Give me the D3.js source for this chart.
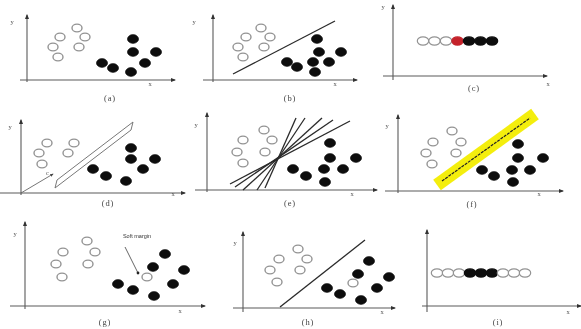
<!DOCTYPE html>
<html><head><meta charset="utf-8">
<script src="https://cdn.jsdelivr.net/npm/d3@7"></script>
<style>html,body{margin:0;padding:0;background:#fff;}svg{display:block;}</style>
</head><body>
<script>
// ---------- DATA (panel-local units, origin = axis crossing) ----------
const captions = ["(a)","(b)","(c)","(d)","(e)","(f)","(g)","(h)","(i)"];

const openA   = [[50,52],[33,43],[58,43],[26,33],[52,33],[31,23]];
const filledA = [[106,41],[106,28],[129,28],[75,17],[118,17],[86,12],[104,8]];

const openB   = [[48,52],[33,43],[57,43],[25,33],[51,33],[30,23]];
const filledB = [[104,41],[106,28],[128,28],[74,18],[100,18],[116,18],[84,13],[102,8]];
const lineB   = [[20,6],[122,59]];

const rowCx   = [30,41.5,53,64.5,76,87.5,99];
const rowCy   = 35;
const rowCCls = ["open","open","open","red","filled","filled","filled"];

const openD   = [[26,50],[53,50],[18,40],[47,40],[21,29]];
const filledD = [[110,45],[110,34],[134,34],[72,24],[122,24],[85,17],[105,12]];
const vectorD = [[0,0],[32,19]];
const marginD = [[34,5],[36,13],[112,71],[110,63]];

const openE   = [[57,60],[36,50],[65,50],[30,38],[58,38],[36,27]];
const filledE = [[123,47],[123,32],[149,32],[86,21],[117,21],[136,21],[99,14],[118,8]];
const linesE  = [
  [[23,6],[143,69]],
  [[28,3],[126,70]],
  [[36,0],[115,72]],
  [[50,0],[98,72]],
  [[58,2],[89,72]]
];

const openF   = [[54,60],[35,49],[63,49],[28,38],[58,38],[34,27]];
const filledF = [[120,47],[120,33],[145,33],[84,21],[114,21],[132,21],[96,15],[115,9]];
const bandF   = [[39,6],[137,77]];
const centerF = [[44,10],[132,73]];

const openG   = [[62,65],[38,54],[70,54],[31,42],[63,42],[37,29],[122,29]];
const filledG = [[140,52],[128,39],[159,36],[93,22],[148,22],[108,16],[129,10]];
const noteG   = {text:"Soft margin", at:[112,68], from:[100,59], to:[113,33]};

const openH   = [[55,59],[36,49],[64,49],[27,38],[57,38],[34,26],[110,25]];
const filledH = [[126,47],[115,34],[146,31],[84,20],[134,20],[97,14],[118,8]];
const lineH   = [[37,1],[122,68]];

const rowICx  = [10,21,32,43,54,65,76,87,98];
const rowICy  = 33;
const rowICls = ["open","open","open","filled","filled","filled","open","open","open"];

// ---------- LAYOUT (pixels) ----------
const layout = [
  {ox:27, oy:80, yAx:[-2,65], xAx:[-7,148], yl:[12,24], xl:[150,86], cap:[110,101]},
  {ox:213,oy:80, yAx:[-2,65], xAx:[-10,144],yl:[194,24],xl:[335,86], cap:[290,101]},
  {ox:393,oy:76, yAx:[-4,71], xAx:[-10,154],yl:[383,9], xl:[548,86], cap:[474,91]},
  {ox:21, oy:193,yAx:[-2,73], xAx:[-21,164],yl:[10,129],xl:[173,196],cap:[108,206]},
  {ox:207,oy:190,yAx:[-2,77], xAx:[-12,170],yl:[196,127],xl:[352,196],cap:[290,206]},
  {ox:398,oy:191,yAx:[-2,76], xAx:[-13,165],yl:[387,128],xl:[539,196],cap:[472,207]},
  {ox:25, oy:306,yAx:[-3,84], xAx:[-15,180],yl:[15,236],xl:[180,313],cap:[105,325]},
  {ox:243,oy:308,yAx:[-4,76], xAx:[-10,152],yl:[235,245],xl:[382,314],cap:[308,325]},
  {ox:427,oy:306,yAx:[-6,76], xAx:[-5,154], yl:null,   xl:[568,314],cap:[498,325]}
];

const W = 581, H = 329;
const svg = d3.select("body").append("svg").attr("width",W).attr("height",H);
const defs = svg.append("defs");
defs.append("filter").attr("id","soft").append("feGaussianBlur").attr("stdDeviation",0.45);
defs.append("marker").attr("id","arr").attr("viewBox","0 0 10 10").attr("refX",8).attr("refY",5)
  .attr("markerWidth",5).attr("markerHeight",5).attr("orient","auto")
  .append("path").attr("d","M0,1 L10,5 L0,9 Z").attr("fill","#333");
defs.append("marker").attr("id","arrS").attr("viewBox","0 0 10 10").attr("refX",8).attr("refY",5)
  .attr("markerWidth",4).attr("markerHeight",4).attr("orient","auto")
  .append("path").attr("d","M0,1 L10,5 L0,9 Z").attr("fill","#444");

const root = svg.append("g").attr("filter","url(#soft)");
const AX = "#5a5a5a", OPEN_STROKE = "#939393", FILL = "#111", RED = "#c4242c";

function scales(L){
  return {
    x: d3.scaleLinear().domain([0,100]).range([L.ox, L.ox+100]),
    y: d3.scaleLinear().domain([0,100]).range([L.oy, L.oy-100])
  };
}
function axes(g,L,s){
  g.append("line").attr("x1",s.x(0)).attr("x2",s.x(0)).attr("y1",s.y(L.yAx[0])).attr("y2",s.y(L.yAx[1]))
    .attr("stroke",AX).attr("stroke-width",1.1).attr("marker-end","url(#arr)");
  g.append("line").attr("x1",s.x(L.xAx[0])).attr("x2",s.x(L.xAx[1])).attr("y1",s.y(0)).attr("y2",s.y(0))
    .attr("stroke",AX).attr("stroke-width",1.1).attr("marker-end","url(#arr)");
  const t = g.append("g").attr("font-family","Liberation Serif, serif").attr("fill","#555").attr("font-size",6.5).attr("text-anchor","middle");
  if(L.yl) t.append("text").attr("x",L.yl[0]).attr("y",L.yl[1]).text("y");
  t.append("text").attr("x",L.xl[0]).attr("y",L.xl[1]).text("x");
}
function caption(g,L,txt){
  g.append("text").attr("x",L.cap[0]).attr("y",L.cap[1]).attr("text-anchor","middle")
   .attr("font-family","Liberation Serif, serif").attr("font-size",8.5).attr("letter-spacing",0.8)
   .attr("fill","#444").text(txt);
}
function pts(g,s,data,kind){
  g.selectAll(null).data(data).enter().append("ellipse")
   .attr("cx",d=>s.x(d[0])).attr("cy",d=>s.y(d[1])).attr("rx",kind==="open"?5.0:5.6).attr("ry",kind==="open"?3.9:4.4)
   .attr("fill",kind==="open"?"#fff":FILL).attr("stroke",kind==="open"?OPEN_STROKE:FILL).attr("stroke-width",kind==="open"?1.4:0.6);
}
function seg(g,s,p,stroke,w,extra){
  const l = g.append("line").attr("x1",s.x(p[0][0])).attr("y1",s.y(p[0][1])).attr("x2",s.x(p[1][0])).attr("y2",s.y(p[1][1]))
   .attr("stroke",stroke).attr("stroke-width",w);
  if(extra) extra(l);
  return l;
}
function row(g,s,cxs,cy,cls){
  const cols = {open:["#fff",OPEN_STROKE],filled:[FILL,FILL],red:[RED,RED]};
  g.selectAll(null).data(cxs.map((c,i)=>({c,k:cls[i]}))).enter().append("ellipse")
   .attr("cx",d=>s.x(d.c)).attr("cy",s.y(cy)).attr("rx",5.7).attr("ry",4.1)
   .attr("fill",d=>cols[d.k][0]).attr("stroke",d=>cols[d.k][1]).attr("stroke-width",1.2);
}

const sets = [
  {open:openA, filled:filledA},
  {open:openB, filled:filledB, line:lineB},
  {row:[rowCx,rowCy,rowCCls]},
  {open:openD, filled:filledD},
  {open:openE, filled:filledE},
  {open:openF, filled:filledF},
  {open:openG, filled:filledG},
  {open:openH, filled:filledH, line:lineH},
  {row:[rowICx,rowICy,rowICls]}
];

layout.forEach((L,i)=>{
  const g = root.append("g");
  const s = scales(L);
  if(i===5){
    seg(g,s,bandF,"#f4ee10",13);
  }
  axes(g,L,s);
  caption(g,L,captions[i]);
  const S = sets[i];
  if(i===3){
    g.append("polygon").attr("points",marginD.map(p=>[s.x(p[0]),s.y(p[1])].join(",")).join(" "))
     .attr("fill","none").attr("stroke","#777").attr("stroke-width",1);
    seg(g,s,vectorD,"#666",0.9,l=>l.attr("marker-end","url(#arrS)"));
    g.append("text").attr("x",s.x(vectorD[1][0])-7).attr("y",s.y(vectorD[1][1])+1).attr("font-size",6)
     .attr("font-family","Liberation Serif, serif").attr("fill","#444").text("c");
  }
  if(i===4){
    linesE.forEach(p=>seg(g,s,p,"#2a2a2a",1.3));
  }
  if(i===5){
    seg(g,s,centerF,"#222",1.2,l=>l.attr("stroke-dasharray","3,1"));
  }
  if(S.line) seg(g,s,S.line,"#2a2a2a",1.3);
  if(S.open) pts(g,s,S.open,"open");
  if(S.filled) pts(g,s,S.filled,"filled");
  if(S.row) row(g,s,S.row[0],S.row[1],S.row[2]);
  if(i===6){
    g.append("text").attr("x",s.x(noteG.at[0])).attr("y",s.y(noteG.at[1])).attr("text-anchor","middle")
     .attr("font-family","Liberation Sans, sans-serif").attr("font-size",5.5).attr("fill","#333").text(noteG.text);
    seg(g,s,[noteG.from,noteG.to],"#555",0.9);
    g.append("circle").attr("cx",s.x(noteG.to[0])).attr("cy",s.y(noteG.to[1])).attr("r",1.4).attr("fill","#222");
  }
});
</script>
</body></html>
